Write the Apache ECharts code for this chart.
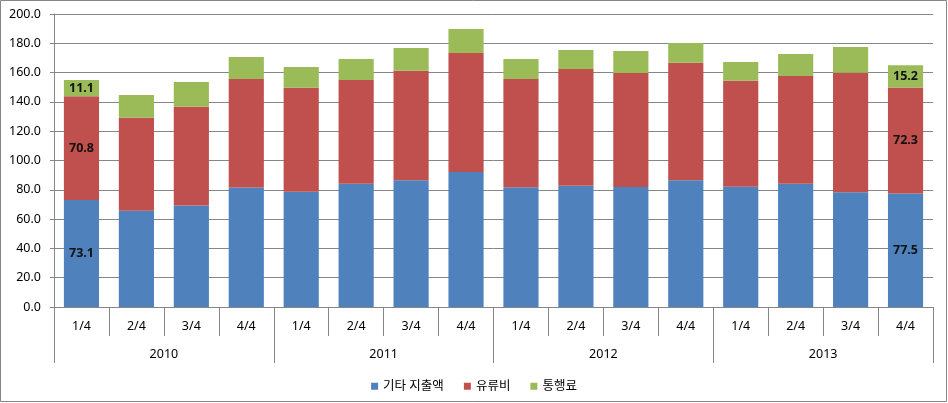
<!DOCTYPE html>
<html>
<head>
<meta charset="utf-8">
<script src="https://cdn.jsdelivr.net/npm/echarts@6/dist/echarts.min.js"></script>
<style>
html,body{margin:0;padding:0;background:#fff;}
#c{width:948px;height:403px;}
</style>
</head>
<body>
<div id="c"></div>
<script>
const quarters = ['1/4','2/4','3/4','4/4','1/4','2/4','3/4','4/4','1/4','2/4','3/4','4/4','1/4','2/4','3/4','4/4'];
const years = ['2010','2011','2012','2013'];
const seriesNames = ['기타 지출액','유류비','통행료'];
const otherExp = [73.1,65.7,69.2,81.5,78.7,84.2,86.5,92.2,81.7,82.8,81.9,86.5,82.1,84.2,78.3,77.5];
const fuel     = [70.8,63.5,67.5,74.1,71.0,70.8,74.8,81.2,73.9,79.7,77.8,80.3,72.4,73.5,81.6,72.3];
const toll     = [11.1,15.5,16.9,15.0,14.1,14.3,15.5,16.4,13.7,12.9,15.0,13.4,12.7,15.0,17.6,15.2];
const labeledIdx = [0, 15];

const colors = ['#4F81BD','#C0504D','#9BBB59'];
const gray = '#868686';
const font = '"Noto Sans", "Noto Sans CJK KR", sans-serif';

function mk(arr){
  return arr.map((v,i)=> labeledIdx.includes(i) ? {value:v, label:{show:true}} : v);
}

const chart = echarts.init(document.getElementById('c'));
chart.setOption({
  animation:false,
  textStyle:{fontFamily:font},
  graphic:[{type:'rect', shape:{x:0.5,y:0.5,width:946,height:401}, style:{fill:'none', stroke:gray, lineWidth:1}, silent:true}],
  legend:{
    data:seriesNames, left:'center', top:375,
    itemWidth:7, itemHeight:7, itemGap:20, icon:'rect',
    textStyle:{fontSize:12.5, color:'#000', fontFamily:font}
  },
  grid:{left:54, right:15, top:14, bottom:96, containLabel:false},
  xAxis:[
    {type:'category', data:quarters,
     axisLine:{show:true, lineStyle:{color:gray}},
     axisTick:{show:true, length:29, interval:0, lineStyle:{color:gray}},
     axisLabel:{margin:13, fontSize:12.5, color:'#000', interval:0, fontFamily:font}},
    {type:'category', data:years, position:'bottom',
     axisLine:{show:false},
     axisTick:{show:true, length:56, interval:0, lineStyle:{color:gray}},
     axisLabel:{margin:41, fontSize:12.5, color:'#000', interval:0, fontFamily:font}}
  ],
  yAxis:{type:'value', min:0, max:200, interval:20,
    axisLine:{show:true, lineStyle:{color:gray}},
    axisTick:{show:true, length:4, lineStyle:{color:gray}},
    splitLine:{lineStyle:{color:gray}},
    axisLabel:{formatter:v=>v.toFixed(1), fontSize:12.5, color:'#000', margin:13, fontFamily:font}
  },
  series:[otherExp, fuel, toll].map((arr,k)=>({
    name:seriesNames[k], type:'bar', stack:'s', xAxisIndex:0,
    barCategoryGap:'36%',
    itemStyle:{color:colors[k]},
    label:{show:false, position:'inside', fontWeight:'bold', fontSize:12.5, color:'#111',
      formatter:p=>Number(p.value).toFixed(1)},
    data:mk(arr)
  }))
});
</script>
</body>
</html>
